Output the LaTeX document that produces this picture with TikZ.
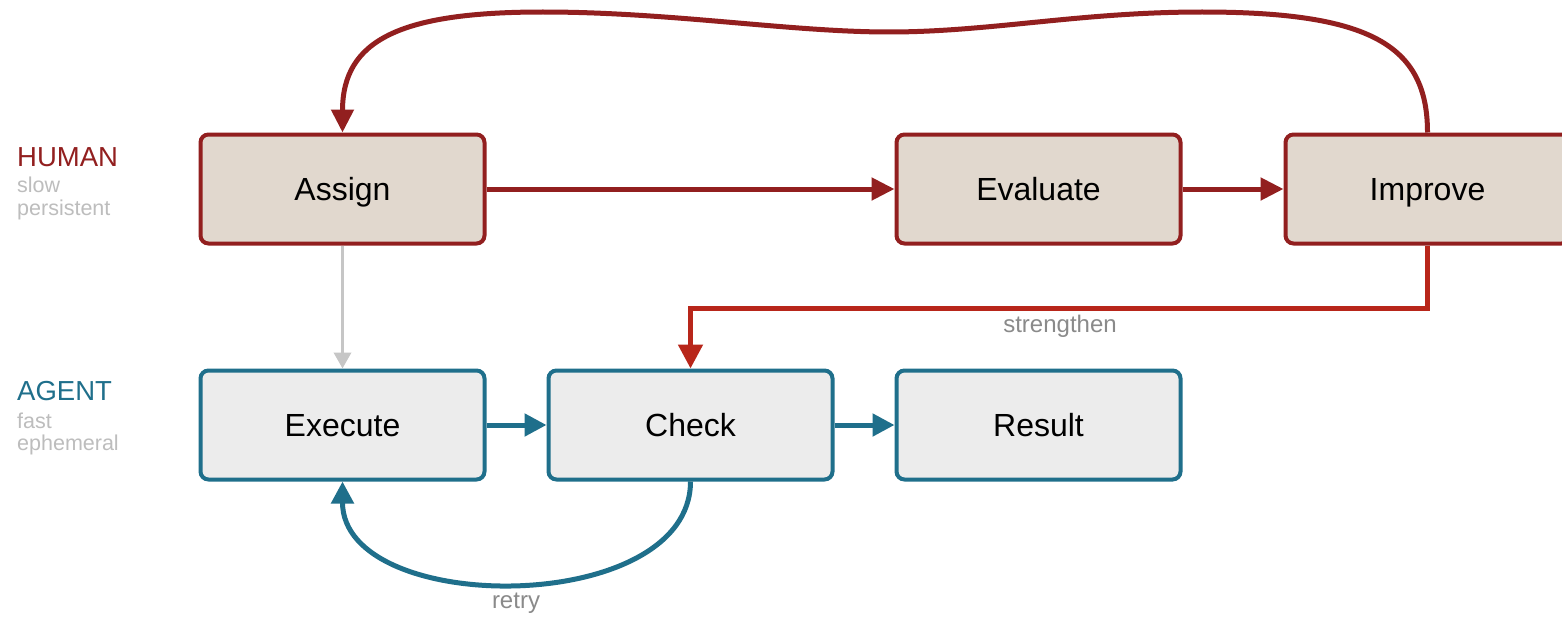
\documentclass[tikz,border=0pt]{standalone}
\usepackage{fontspec}
\setmainfont{Liberation Sans}
\usetikzlibrary{arrows.meta}

\definecolor{humanred}{HTML}{921F1F}
\definecolor{pushred}{HTML}{B8261A}
\definecolor{agentteal}{HTML}{1F6F8B}
\definecolor{humanfill}{HTML}{E1D8CE}
\definecolor{agentfill}{HTML}{ECECEC}
\definecolor{softgray}{HTML}{BDBDBD}
\definecolor{labelgray}{HTML}{8A8A8A}
\definecolor{linkgray}{HTML}{C6C6C6}

\tikzset{
  box/.style={rectangle, rounded corners=8pt, minimum width=284pt, minimum height=109pt,
    line width=4pt, font=\fontsize{32}{38}\selectfont, text=black,
    text height=28pt, text depth=6pt},
  humanbox/.style={box, draw=humanred, fill=humanfill},
  agentbox/.style={box, draw=agentteal, fill=agentfill},
  lane/.style={anchor=west, inner sep=0pt, font=\fontsize{27.5}{32}\selectfont},
  lanesub/.style={anchor=west, inner sep=0pt, text=softgray, font=\fontsize{21.5}{25}\selectfont},
  edgelabel/.style={inner sep=0pt, text=labelgray, font=\fontsize{24}{28}\selectfont},
  redflow/.style={draw=humanred, line width=5pt, -{Triangle[length=23pt,width=22pt]}},
  pushflow/.style={draw=pushred, line width=5pt, -{Triangle[length=24pt,width=24pt]}},
  tealflow/.style={draw=agentteal, line width=5pt, -{Triangle[length=22pt,width=22pt]}},
  grayflow/.style={draw=linkgray, line width=3.5pt, -{Triangle[length=16pt,width=17pt]}}
}

\begin{document}
\begin{tikzpicture}[x=1pt, y=-1pt]
  \clip (0,0) rectangle (1562,618);
  \fill[white] (0,0) rectangle (1562,618);

  % lane captions
  \node[lane, text=humanred] (hcap) at (17,157) {HUMAN};
  \node[lanesub] (hslow) at (17,185) {slow};
  \node[lanesub] (hpers) at (17,210) {persistent};
  \node[lane, text=agentteal] (acap) at (17,391) {AGENT};
  \node[lanesub] (afast) at (17,421) {fast};
  \node[lanesub] (aeph) at (17,445) {ephemeral};

  % human row
  \node[humanbox] (assign) at (342.5,189) {Assign};
  \node[humanbox] (evaluate) at (1038.5,189) {Evaluate};
  \node[humanbox] (improve) at (1427.5,189) {Improve};

  % agent row
  \node[agentbox] (execute) at (342.5,425) {Execute};
  \node[agentbox] (check) at (690.5,425) {Check};
  \node[agentbox] (result) at (1038.5,425) {Result};

  % human flow
  \draw[redflow] (assign) -- (evaluate);
  \draw[redflow] (evaluate) -- (improve);
  \draw[redflow] (improve.north)
    .. controls (1427.5,45) and (1370,12) .. (1202,12)
    .. controls (1080,12) and (990,32) .. (889,32)
    .. controls (790,32) and (670,12) .. (543,12)
    .. controls (400,12) and (342.5,40) .. (assign.north);

  % hand-off to the agent
  \draw[grayflow] (assign) -- (execute);

  % agent flow
  \draw[tealflow] (execute) -- (check);
  \draw[tealflow] (check) -- (result);
  \draw[tealflow] (check.south) to[out=-90, in=-90] (execute.south);
  \node[edgelabel] (retrylbl) at (516,603) {retry};

  % feedback into the check
  \coordinate (turn) at (0,308);
  \draw[pushflow] (improve.south) |- (check.north |- turn) -- (check.north);
  \node[edgelabel] (stronglbl) at (1060,326) {strengthen};
\end{tikzpicture}
\end{document}
